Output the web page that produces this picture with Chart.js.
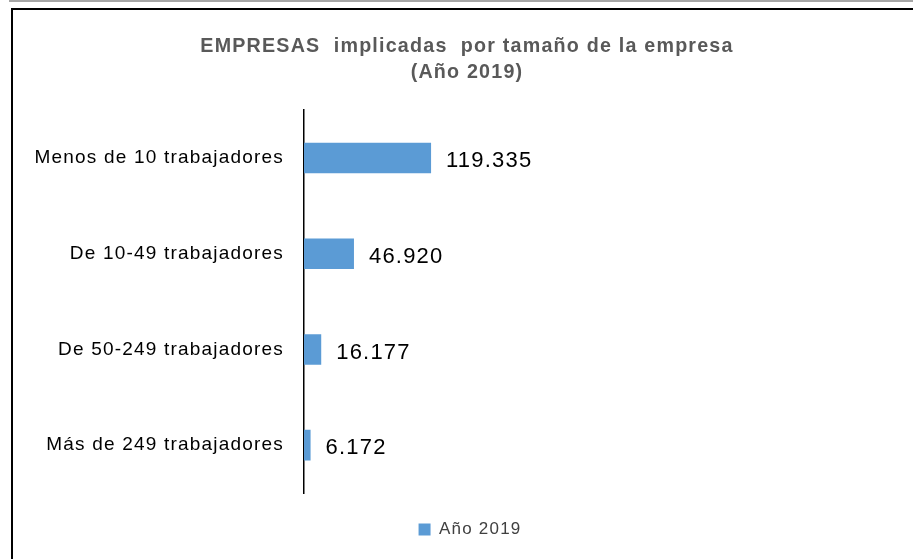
<!DOCTYPE html>
<html>
<head>
<meta charset="utf-8">
<script src="https://cdn.jsdelivr.net/npm/chart.js@4/dist/chart.umd.min.js"></script>
<style>
  html, body { margin: 0; padding: 0; background: #fff; }
  #wrap { position: relative; width: 913px; height: 559px; overflow: hidden; }
  #topline { position: absolute; left: 9px; top: 0; width: 904px; height: 2px; background: #a6a6a6; }
  #frame { position: absolute; left: 11px; top: 8px; width: 1000px; height: 1000px;
           border-left: 2px solid #000; border-top: 2px solid #000; }
  #myChart { position: absolute; left: 0; top: 0; }
</style>
</head>
<body>
<div id="wrap">
  <div id="topline"></div>
  <div id="frame"></div>
  <canvas id="myChart" width="913" height="559"></canvas>
</div>
<script>
const categories = ['Menos de 10 trabajadores', 'De 10-49 trabajadores', 'De 50-249 trabajadores', 'Más de 249 trabajadores'];
const values2019 = [119335, 46920, 16177, 6172];
const seriesName = 'Año 2019';
const titleLines = ['EMPRESAS  implicadas  por tamaño de la empresa', '(Año 2019)'];

const FONT = '"Liberation Sans", Arial, sans-serif';

const formatEs = function(n) {
    return String(n).replace(/\B(?=(\d{3})+(?!\d))/g, '.');
};

// wider letter spacing, closer to the original Calibri look
const spacing = {
    id: 'spacing',
    beforeUpdate: function(chart) {
        if ('letterSpacing' in chart.ctx) chart.ctx.letterSpacing = '1.2px';
    },
    afterLayout: function(chart) {
        // title and legend are centred on the frame, not on the whole canvas
        chart.titleBlock.left += 55;
        chart.legend.left += 61;
    },
    beforeDraw: function(chart) {
        if ('letterSpacing' in chart.ctx) chart.ctx.letterSpacing = '1.2px';
    }
};

// value labels drawn to the right of each bar
const valueLabels = {
    id: 'valueLabels',
    afterDatasetsDraw: function(chart) {
        const ctx = chart.ctx;
        const meta = chart.getDatasetMeta(0);
        ctx.save();
        ctx.font = '22px ' + FONT;
        ctx.fillStyle = '#000';
        ctx.textBaseline = 'middle';
        ctx.textAlign = 'left';
        meta.data.forEach(function(bar, i) {
            ctx.fillText(formatEs(values2019[i]), bar.x + 15, bar.y + 3);
        });
        ctx.restore();
    }
};

const ctx = document.getElementById('myChart');

new Chart(ctx, {
    type: 'bar',
    data: {
        labels: categories,
        datasets: [{
            label: seriesName,
            data: values2019,
            backgroundColor: '#5b9bd5',
            borderWidth: 0,
            categoryPercentage: 1,
            barPercentage: 0.32
        }]
    },
    options: {
        indexAxis: 'y',
        responsive: false,
        animation: false,
        layout: { padding: { left: 0, right: 34, top: 0, bottom: 11 } },
        scales: {
            x: {
                display: true,
                min: 0,
                max: 540000,
                afterFit: function(scale) { scale.height = 8; },
                grid: { display: false },
                border: { display: false },
                ticks: { display: false }
            },
            y: {
                afterFit: function(scale) { scale.width = 304; },
                grid: { display: false, drawTicks: false },
                border: { display: true, color: '#000', width: 1.5 },
                ticks: {
                    padding: 20,
                    color: '#000',
                    font: { family: FONT, size: 19 }
                }
            }
        },
        plugins: {
            title: {
                display: true,
                text: titleLines,
                color: '#595959',
                font: { family: FONT, size: 19.7, weight: 'bold', lineHeight: 1.35 },
                padding: { top: 33, bottom: 24 }
            },
            legend: {
                position: 'bottom',
                labels: {
                    boxWidth: 12,
                    boxHeight: 12,
                    padding: 20,
                    color: '#404040',
                    font: { family: FONT, size: 17 }
                }
            },
            tooltip: { enabled: false }
        }
    },
    plugins: [spacing, valueLabels]
});
</script>
</body>
</html>
